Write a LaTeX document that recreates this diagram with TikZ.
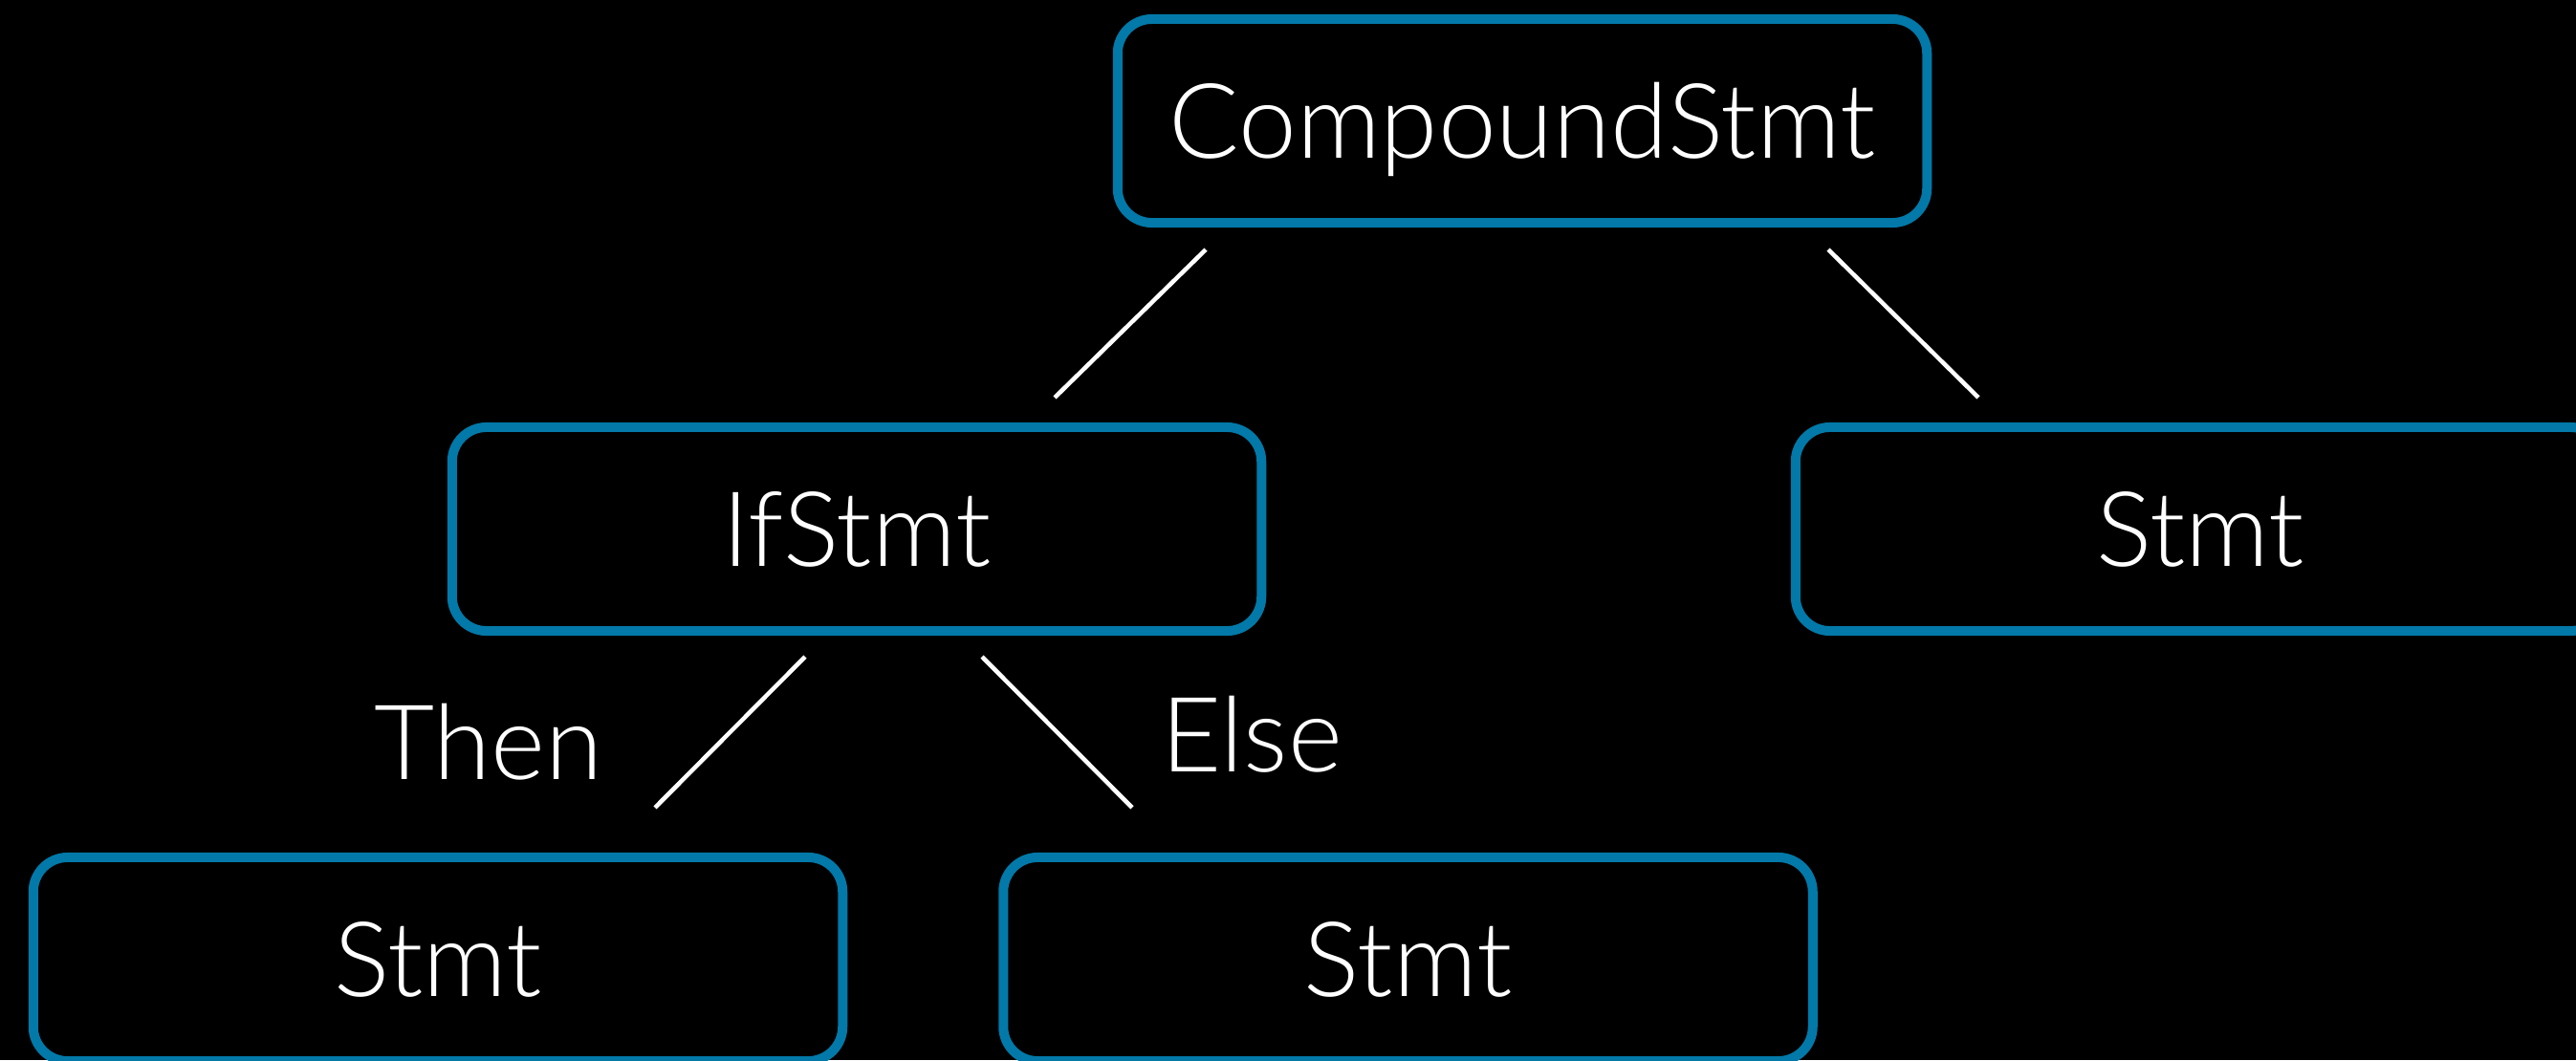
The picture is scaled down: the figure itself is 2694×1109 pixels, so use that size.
\documentclass[tikz,border=0pt]{standalone}
\usepackage{fontspec}
\IfFontExistsTF{Lato Light}{\setmainfont{Lato Light}}{\setmainfont{TeX Gyre Heros}}
\usetikzlibrary{calc}
\definecolor{boxblue}{RGB}{2,121,168}
\begin{document}
\begin{tikzpicture}[x=0.01cm,y=-0.01cm,
  astbox/.style={draw=boxblue, line width=0.1cm, rounded corners=0.36cm,
    minimum width=8.46cm, minimum height=2.13cm, inner sep=0pt, outer sep=0pt,
    text=white, font=\fontsize{31}{36}\selectfont,
    text height=0.77cm, text depth=0pt},
  link/.style={draw=white, line width=0.045cm},
  lbl/.style={text=white, font=\fontsize{31}{36}\selectfont, anchor=base, inner sep=0pt}]
  % canvas
  \fill[black] (0,0) rectangle (2694,1109);
  \useasboundingbox (0,0) rectangle (2694,1109);
  \clip (0,0) rectangle (2694,1109);

  % tree nodes
  \node[astbox] (cs)  at (1592,126.5)  {CompoundStmt};
  \node[astbox] (ifs) at (896,553.5)   {IfStmt};
  \node[astbox] (rs)  at (2301,553.5)  {Stmt};
  \node[astbox] (ls)  at (458,1003.5)  {Stmt};
  \node[astbox] (ms)  at (1472.5,1003.5) {Stmt};

  % connector end points, kept clear of the boxes
  \coordinate (c1a) at ($(cs.south)+(-331,28)$);
  \coordinate (c1b) at ($(ifs.north)+(207,-31)$);
  \coordinate (c2a) at ($(cs.south)+(320,28)$);
  \coordinate (c2b) at ($(rs.north)+(-232,-31)$);
  \coordinate (c3a) at ($(ifs.south)+(-54,27)$);
  \coordinate (c3b) at ($(ls.north)+(227,-52)$);
  \coordinate (c4a) at ($(ifs.south)+(131,27)$);
  \coordinate (c4b) at ($(ms.north)+(-288.5,-52)$);

  \draw[link] (c1a) -- (c1b);
  \draw[link] (c2a) -- (c2b);
  \draw[link] (c3a) -- (c3b);
  \draw[link] (c4a) -- (c4b);

  % branch labels
  \node[lbl] (thenlbl) at (511,815) {Then};
  \node[lbl] (elselbl) at (1309,807) {Else};
\end{tikzpicture}
\end{document}
